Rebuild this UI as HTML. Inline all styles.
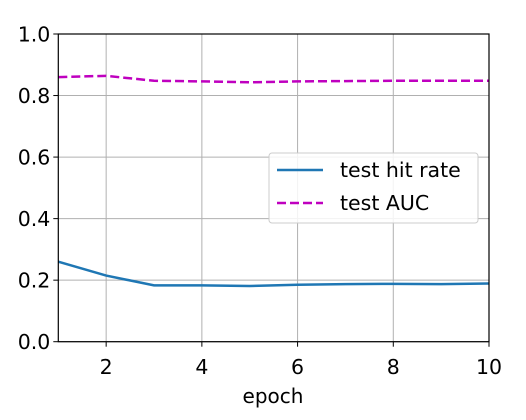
<!DOCTYPE html>
<html><head><meta charset="utf-8"><style>
html,body{margin:0;padding:0;background:#fff;}
svg{display:block;font-family:"DejaVu Sans","Liberation Sans",sans-serif;}
</style></head><body>
<svg id="chart" width="526" height="420" viewBox="0 0 526 420">
<g id="grid"></g>
<g id="series"></g>
<g id="axes"></g>
<text x="273" y="403" font-size="20" text-anchor="middle" fill="#000">epoch</text>
<g>
<rect x="269" y="153" width="209" height="70" rx="3" fill="#fff" fill-opacity="0.85" stroke="#ccc"/>
<line x1="277" y1="170" x2="323" y2="170" stroke="#1f77b4" stroke-width="2.5"/>
<text x="340" y="177" font-size="20.5" fill="#000">test hit rate</text>
<line x1="277" y1="203" x2="323" y2="203" stroke="#bf00bf" stroke-width="2.5" stroke-dasharray="9,4"/>
<text x="340" y="210" font-size="20.5" fill="#000">test AUC</text>
</g>
</svg>
<script>
const epochs=[1,2,3,4,5,6,7,8,9,10];
const hitRate=[0.26,0.215,0.183,0.183,0.181,0.185,0.187,0.188,0.187,0.189];
const auc=[0.86,0.864,0.848,0.846,0.843,0.846,0.847,0.848,0.848,0.848];
const xTicks=[2,4,6,8,10];
const yTicks=[0,0.2,0.4,0.6,0.8,1.0];
const X0=58.3,X1=489,Y0=341.7,Y1=34;
const sx=v=>X0+(v-1)/(10-1)*(X1-X0);
const sy=v=>Y0-(v-0)/(1-0)*(Y0-Y1);
const NS="http://www.w3.org/2000/svg";
function mk(tag,attrs,parent){const e=document.createElementNS(NS,tag);for(const k in attrs)e.setAttribute(k,attrs[k]);parent.appendChild(e);return e;}
const grid=document.getElementById('grid'),axes=document.getElementById('axes'),series=document.getElementById('series');
xTicks.forEach(t=>{
 const g=mk('line',{x1:sx(t),x2:sx(t),y1:Y1,y2:Y0,stroke:'#b0b0b0','stroke-width':1},grid);
 
 
 const tk=mk('line',{x1:sx(t),x2:sx(t),y1:Y0,y2:Y0+5,stroke:'#000','stroke-width':1},axes);
 
 
 const tx=mk('text',{x:sx(t),y:374,'font-size':20.5,'text-anchor':'middle',fill:'#000'},axes);
 tx.textContent=t;
 
 
});
yTicks.forEach(t=>{
 const g=mk('line',{x1:X0,x2:X1,y1:sy(t),y2:sy(t),stroke:'#b0b0b0','stroke-width':1},grid);
 
 
 const tk=mk('line',{x1:X0-5,x2:X0,y1:sy(t),y2:sy(t),stroke:'#000','stroke-width':1},axes);
 
 
 const tx=mk('text',{x:X0-8,y:sy(t)+7.5,'font-size':20.5,'text-anchor':'end',fill:'#000'},axes);
 tx.textContent=t.toFixed(1);
 
 
});
const frame=mk('rect',{x:X0,y:Y1,width:X1-X0,height:Y0-Y1,fill:'none',stroke:'#000','stroke-width':1.2},axes);


const p1=mk('polyline',{points:epochs.map((e,i)=>sx(e)+','+sy(hitRate[i])).join(' '),fill:'none',stroke:'#1f77b4','stroke-width':2.5},series);


const p2=mk('polyline',{points:epochs.map((e,i)=>sx(e)+','+sy(auc[i])).join(' '),fill:'none',stroke:'#bf00bf','stroke-width':2.5,'stroke-dasharray':'9,4'},series);


</script>
</body></html>
